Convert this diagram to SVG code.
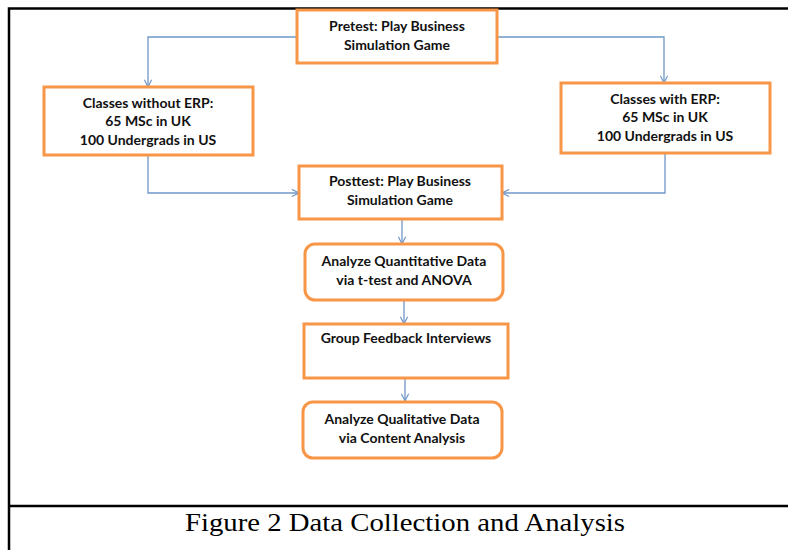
<svg xmlns="http://www.w3.org/2000/svg" width="788" height="550" viewBox="0 0 788 550">
<defs>
<marker id="arr" viewBox="0 0 10 10" refX="9" refY="5" markerWidth="9" markerHeight="9" orient="auto" markerUnits="userSpaceOnUse">
<path d="M1,1 L9,5 L1,9" fill="none" stroke="#7096C8" stroke-width="1.3"/>
</marker>
<style>
.box{fill:#fff;stroke:#F79646;stroke-width:3}
.t{font-family:Lato,"Open Sans",sans-serif;font-weight:bold;font-size:14px;fill:#111;text-anchor:middle}
.c{fill:none;stroke:#7096C8;stroke-width:1.3}
.frame{stroke:#000;stroke-width:2.5;fill:none}
</style>
</defs>
<rect width="788" height="550" fill="#fff"/>
<g id="frame">
<path class="frame" d="M9,550 V8.5 H788"/>
<path class="frame" d="M9,506 H788"/>
</g>
<g id="connectors">
<path class="c" d="M297,37 H148 V87" marker-end="url(#arr)"/>
<path class="c" d="M497,37 H664 V83" marker-end="url(#arr)"/>
<path class="c" d="M148,155 V193 H299" marker-end="url(#arr)"/>
<path class="c" d="M665,153 V193 H502" marker-end="url(#arr)"/>
<path class="c" d="M402,219 V244" marker-end="url(#arr)"/>
<path class="c" d="M404,300 V324" marker-end="url(#arr)"/>
<path class="c" d="M405,378 V401" marker-end="url(#arr)"/>
</g>
<g id="pretest">
<rect class="box" x="297" y="10" width="200" height="53"/>
<text class="t" x="397" y="31">Pretest: Play Business</text>
<text class="t" x="397" y="50">Simulation Game</text>
</g>
<g id="without-erp">
<rect class="box" x="44" y="87" width="209" height="68"/>
<text class="t" x="148" y="108">Classes without ERP:</text>
<text class="t" x="148" y="126">65 MSc in UK</text>
<text class="t" x="148" y="145">100 Undergrads in US</text>
</g>
<g id="with-erp">
<rect class="box" x="561" y="83" width="209" height="70"/>
<text class="t" x="665" y="104">Classes with ERP:</text>
<text class="t" x="665" y="122">65 MSc in UK</text>
<text class="t" x="665" y="141">100 Undergrads in US</text>
</g>
<g id="posttest">
<rect class="box" x="299" y="166" width="203" height="53"/>
<text class="t" x="400" y="186">Posttest: Play Business</text>
<text class="t" x="400" y="205">Simulation Game</text>
</g>
<g id="quant">
<rect class="box" x="305" y="244" width="198" height="56" rx="10"/>
<text class="t" x="404" y="266">Analyze Quantitative Data</text>
<text class="t" x="404" y="285">via t-test and ANOVA</text>
</g>
<g id="feedback">
<rect class="box" x="304" y="324" width="204" height="54"/>
<text class="t" x="406" y="343">Group Feedback Interviews</text>
</g>
<g id="qual">
<rect class="box" x="303" y="402" width="199" height="56" rx="10"/>
<text class="t" x="402" y="424">Analyze Qualitative Data</text>
<text class="t" x="402" y="443">via Content Analysis</text>
</g>
<text id="caption" x="405" y="531" font-family="'Liberation Serif',Georgia,serif" font-size="26" text-anchor="middle" fill="#000" textLength="440" lengthAdjust="spacingAndGlyphs">Figure 2 Data Collection and Analysis</text>
</svg>
